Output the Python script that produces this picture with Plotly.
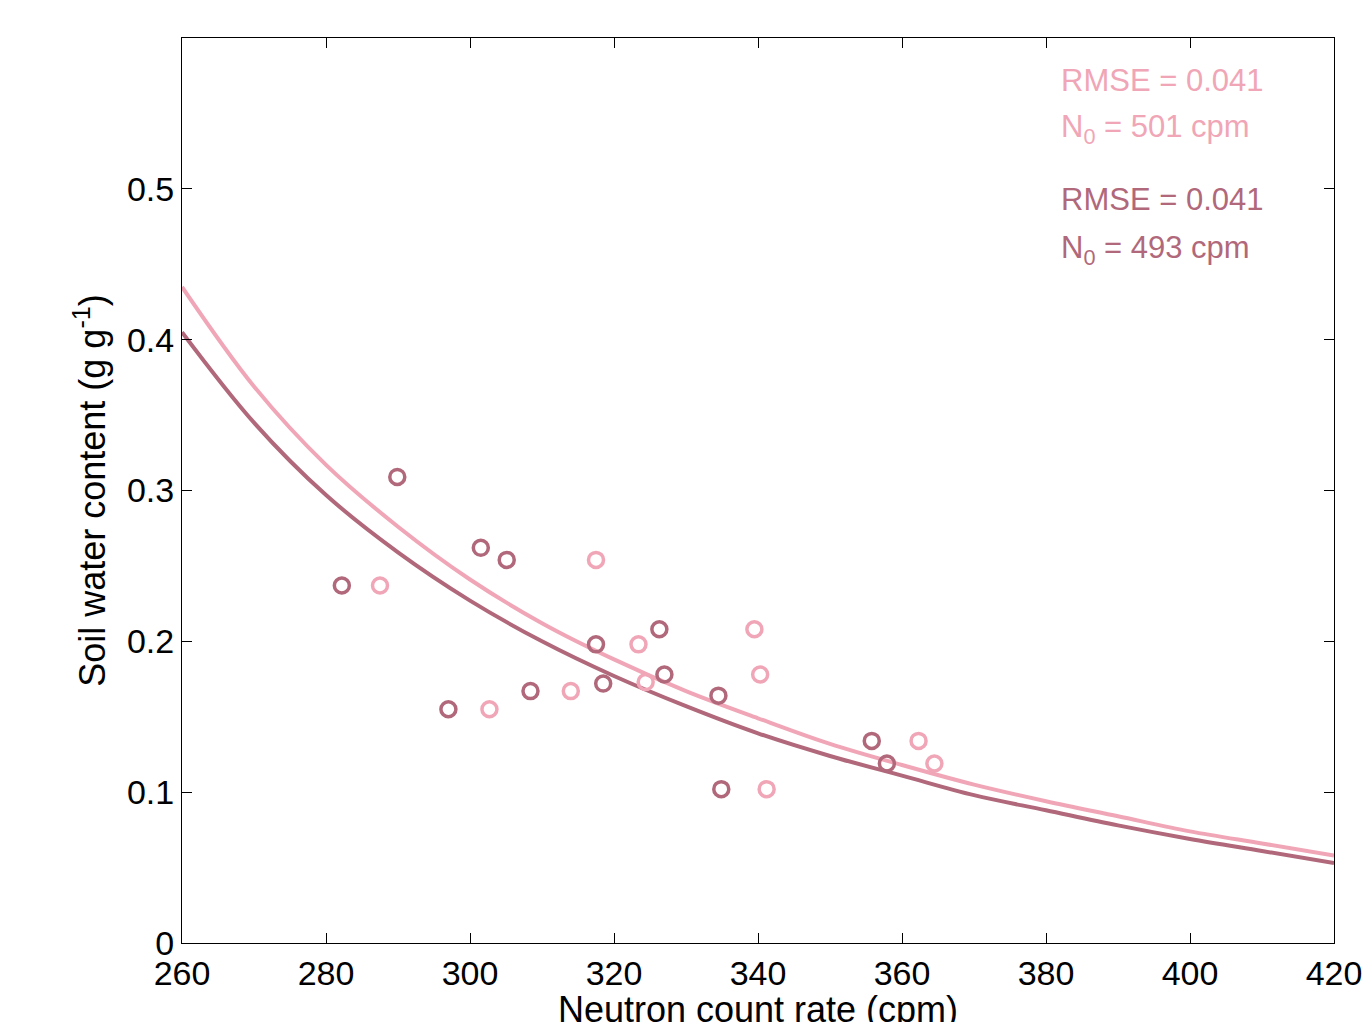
import plotly.graph_objects as go

# Fitted curves at 10 cpm steps
curve_x = [260, 270, 280, 290, 300, 310, 320, 330, 340, 350, 360, 370, 380, 390, 400, 410, 420]
curve_light = [0.435, 0.369, 0.317, 0.276, 0.241, 0.212, 0.188, 0.167, 0.149, 0.132,
               0.118, 0.105, 0.094, 0.084, 0.074, 0.066, 0.058]
curve_dark = [0.405, 0.345, 0.297, 0.259, 0.227, 0.200, 0.177, 0.157, 0.139, 0.124,
              0.111, 0.098, 0.088, 0.078, 0.069, 0.061, 0.053]

# Observations (dark, N0 = 493)
dark_x = [282.2, 289.9, 297.0, 301.5, 305.1, 308.4, 317.5, 318.5, 326.3, 327.0, 334.5, 334.9, 355.8, 357.9]
dark_y = [0.237, 0.309, 0.155, 0.262, 0.254, 0.167, 0.198, 0.172, 0.208, 0.178, 0.164, 0.102, 0.134, 0.119]

# Observations (light, N0 = 501)
light_x = [287.5, 302.7, 314.0, 317.5, 323.4, 324.4, 339.5, 340.3, 341.2, 362.3, 364.5]
light_y = [0.237, 0.155, 0.167, 0.254, 0.198, 0.173, 0.208, 0.178, 0.102, 0.134, 0.119]

x_ticks = [260, 280, 300, 320, 340, 360, 380, 400, 420]
y_ticks = [0, 0.1, 0.2, 0.3, 0.4, 0.5]

DARK = "#b0687a"
LIGHT = "#f0a6b6"
FONT = "Liberation Sans, Arial, sans-serif"

fig = go.Figure()
fig.add_trace(go.Scatter(x=curve_x, y=curve_light, mode="lines", line=dict(color=LIGHT, width=4, shape="spline"),
                         showlegend=False, hoverinfo="skip"))
fig.add_trace(go.Scatter(x=curve_x, y=curve_dark, mode="lines", line=dict(color=DARK, width=4, shape="spline"),
                         showlegend=False, hoverinfo="skip"))
fig.add_trace(go.Scatter(x=light_x, y=light_y, mode="markers",
                         marker=dict(symbol="circle-open", size=15, color=LIGHT, line=dict(width=3.5, color=LIGHT)),
                         showlegend=False))
fig.add_trace(go.Scatter(x=dark_x, y=dark_y, mode="markers",
                         marker=dict(symbol="circle-open", size=15, color=DARK, line=dict(width=3.5, color=DARK)),
                         showlegend=False))

annots = [
    ("RMSE = 0.041", LIGHT, 79),
    ("N<sub>0</sub> = 501 cpm", LIGHT, 128),
    ("RMSE = 0.041", DARK, 198),
    ("N<sub>0</sub> = 493 cpm", DARK, 249),
]
for text, col, ypx in annots:
    fig.add_annotation(text=text, xref="paper", yref="paper",
                       x=(1058 - 181) / 1152, y=(942 - ypx) / 905,
                       xanchor="left", yanchor="middle", showarrow=False,
                       font=dict(family=FONT, size=31, color=col))

fig.update_layout(
    width=1370, height=1022,
    margin=dict(l=174, r=44, t=30, b=87, autoexpand=False),
    paper_bgcolor="white", plot_bgcolor="white",
    font=dict(family=FONT, size=34, color="black"),
    xaxis=dict(range=[260, 420], tickvals=x_ticks, ticktext=[str(v) for v in x_ticks],
               ticks="inside", ticklen=10, tickwidth=1, tickcolor="black",
               showline=True, linecolor="black", linewidth=1, mirror="ticks",
               showgrid=False, zeroline=False, automargin=False,
               title=dict(text="Neutron count rate (cpm)", standoff=4, font=dict(size=36))),
    yaxis=dict(range=[0, 0.6], tickvals=y_ticks, ticktext=["0", "0.1", "0.2", "0.3", "0.4", "0.5"],
               ticks="inside", ticklen=10, tickwidth=1, tickcolor="black",
               showline=True, linecolor="black", linewidth=1, mirror="ticks",
               showgrid=False, zeroline=False, automargin=False,
               title=dict(text="Soil water content (g g<sup>-1</sup>)", standoff=10, font=dict(size=36))),
)

fig.write_html("out.html")
